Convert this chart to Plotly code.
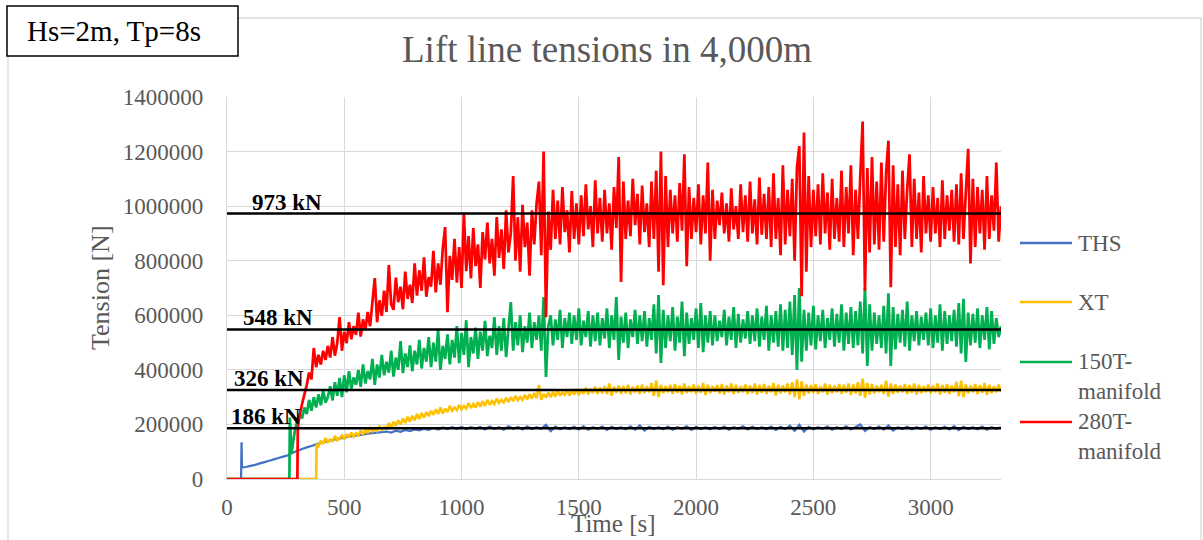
import plotly.graph_objects as go

# ---------------------------------------------------------------------------
# Lift line tension records in 4,000 m water depth (Hs = 2 m, Tp = 8 s)
# Tensions are stored in kN and plotted in N.
# ---------------------------------------------------------------------------

SERIES_NAMES = ["THS", "XT", "150T-manifold", "280T-manifold"]
SERIES_COLORS = ["#4472C4", "#FFC000", "#00B050", "#FF0000"]
SERIES_WIDTHS = [2.25, 2.5, 2.75, 2.75]

# Mean tension levels (kN)
LEVELS_KN = [186, 326, 548, 973]
LEVEL_LABELS = ["186 kN", "326 kN", "548 kN", "973 kN"]
LEVEL_LABEL_T = [9, 21, 60, 98]          # time [s] where each label starts

X_TICKS = [0, 500, 1000, 1500, 2000, 2500, 3000]
Y_TICKS = [0, 200000, 400000, 600000, 800000, 1000000, 1200000, 1400000]

# --- THS: lift-off part, then samples every 20 s from 80 s ---------------
THS_START_T = [0, 60, 62, 64]
THS_START_KN = [0, 0, 135, 42]
THS_T0, THS_DT = 80, 20
THS_KN = [
    44, 48, 52, 57, 62, 67, 72, 77, 82, 87,
    96, 103, 110, 116, 121, 127, 132, 137, 141, 145,
    149, 152, 155, 158, 161, 163, 166, 168, 170, 172,
    174, 170, 177, 173, 180, 176, 182, 178, 184, 180,
    187, 181, 189, 183, 190, 184, 191, 183, 190, 185,
    191, 182, 192, 183, 190, 181, 193, 184, 191, 182,
    192, 183, 190, 184, 198, 176, 192, 182, 190, 183,
    191, 182, 193, 181, 190, 184, 192, 180, 191, 183,
    190, 182, 193, 181, 196, 178, 191, 183, 190, 182,
    192, 181, 190, 184, 193, 180, 191, 183, 190, 182,
    191, 183, 192, 181, 190, 184, 193, 182, 191, 183,
    190, 182, 192, 180, 191, 183, 195, 177, 198, 174,
    191, 182, 190, 184, 192, 181, 190, 183, 193, 182,
    191, 200, 176, 190, 183, 192, 181, 196, 178, 190,
    183, 191, 182, 190, 184, 192, 181, 190, 183, 191,
    182, 194, 179, 191, 183, 190, 182, 192, 181, 190,
    184, 189,
]

# --- XT: lift-off part, then samples every 10 s from 390 s ---------------
XT_START_T = [0, 380, 382]
XT_START_KN = [0, 0, 128]
XT_T0, XT_DT = 390, 10
XT_KN = [
    120, 140, 128, 150, 135, 145, 138, 158, 142, 150,
    160, 145, 165, 152, 170, 155, 168, 160, 178, 162,
    182, 168, 190, 172, 185, 176, 195, 180, 190, 185,
    205, 188, 210, 195, 215, 200, 222, 205, 228, 210,
    232, 215, 238, 220, 242, 225, 245, 230, 250, 235,
    255, 238, 262, 240, 258, 245, 268, 250, 262, 252,
    272, 255, 268, 258, 278, 260, 275, 262, 282, 265,
    285, 268, 290, 272, 286, 275, 295, 278, 290, 280,
    298, 282, 300, 285, 305, 288, 300, 290, 308, 292,
    310, 294, 315, 296, 345, 290, 312, 298, 318, 300,
    320, 302, 325, 305, 318, 308, 328, 306, 322, 310,
    330, 308, 326, 312, 335, 310, 330, 315, 338, 312,
    335, 314, 340, 312, 350, 305, 338, 316, 342, 312,
    340, 315, 345, 310, 338, 318, 342, 312, 346, 315,
    340, 318, 352, 305, 360, 300, 345, 315, 340, 318,
    345, 312, 348, 316, 342, 310, 350, 315, 340, 318,
    346, 312, 342, 316, 352, 308, 345, 315, 340, 320,
    344, 314, 348, 310, 342, 318, 350, 312, 345, 316,
    340, 318, 346, 312, 342, 315, 350, 310, 344, 316,
    348, 312, 342, 318, 352, 306, 345, 314, 342, 318,
    350, 310, 355, 300, 365, 292, 358, 305, 346, 314,
    344, 316, 348, 312, 340, 318, 350, 310, 345, 315,
    342, 318, 348, 312, 345, 316, 350, 308, 346, 314,
    355, 305, 368, 298, 352, 310, 348, 314, 342, 318,
    345, 312, 360, 302, 350, 312, 346, 316, 342, 318,
    348, 312, 344, 316, 350, 310, 345, 315, 340, 318,
    346, 314, 342, 318, 350, 310, 344, 316, 348, 312,
    342, 318, 356, 304, 360, 300, 346, 314, 342, 318,
    348, 312, 344, 316, 352, 308, 345, 315, 340, 318,
    346, 320,
]

# --- 150T manifold: lift-off part, then samples every 10 s from 280 s ----
M150_START_T = [0, 266, 268, 275]
M150_START_KN = [0, 0, 225, 95]
M150_T0, M150_DT = 280, 10
M150_KN = [
    125, 180, 215, 240, 222, 262, 238, 290, 250, 300,
    262, 310, 270, 325, 280, 300, 340, 288, 355, 305,
    370, 300, 380, 318, 395, 330, 372, 345, 400, 338,
    420, 350, 395, 365, 440, 345, 420, 372, 455, 380,
    430, 390, 470, 375, 445, 400, 505, 388, 460, 410,
    490, 395, 470, 420, 510, 405, 480, 430, 520, 410,
    500, 430, 546, 400, 488, 440, 530, 420, 510, 445,
    560, 425, 535, 455, 582, 410, 520, 460, 555, 440,
    540, 470, 580, 450, 525, 480, 593, 455, 560, 470,
    590, 447, 550, 648, 470, 575, 490, 600, 465, 560,
    500, 610, 480, 575, 510, 600, 470, 667, 374, 560,
    600, 490, 585, 510, 620, 480, 590, 520, 610, 495,
    600, 510, 625, 490, 580, 520, 615, 485, 600, 505,
    610, 490, 590, 515, 625, 480, 600, 510, 667, 436,
    595, 500, 610, 480, 585, 520, 620, 495, 600, 505,
    615, 485, 590, 510, 640, 460, 674, 425, 620, 480,
    600, 505, 630, 470, 595, 500, 650, 450, 610, 495,
    590, 510, 625, 480, 645, 465, 600, 500, 615, 490,
    600, 505, 580, 520, 620, 490, 595, 510, 630, 480,
    605, 500, 585, 515, 615, 495, 600, 505, 625, 485,
    595, 510, 635, 470, 600, 500, 615, 485, 640, 470,
    620, 480, 650, 455, 674, 400, 700, 430, 620, 470,
    610, 490, 635, 475, 600, 505, 620, 480, 590, 510,
    625, 485, 605, 500, 640, 470, 610, 495, 630, 480,
    615, 490, 650, 460, 700, 414, 640, 470, 610, 495,
    600, 480, 635, 460, 681, 414, 630, 475, 605, 500,
    620, 485, 650, 470, 600, 505, 615, 490, 595, 510,
    610, 490, 625, 480, 600, 500, 640, 470, 615, 495,
    600, 505, 620, 485, 645, 460, 660, 429, 610, 490,
    605, 500, 625, 480, 600, 510, 630, 475, 615, 495,
    590, 520, 560,
]

# --- 280T manifold: lift-off part, then samples every 10 s from 310 s ----
M280_START_T = [0, 300, 302]
M280_START_KN = [0, 0, 190]
M280_T0, M280_DT = 310, 10
M280_KN = [
    235, 275, 310, 345, 390, 365, 480, 410, 455, 420,
    470, 436, 488, 445, 520, 452, 498, 593, 470, 540,
    498, 575, 512, 560, 528, 610, 522, 585, 548, 612,
    560, 648, 736, 575, 655, 598, 690, 612, 784, 640,
    620, 738, 648, 705, 622, 760, 660, 712, 645, 790,
    672, 765, 690, 812, 668, 740, 705, 836, 684, 790,
    712, 845, 923, 611, 818, 730, 880, 720, 850, 700,
    974, 762, 890, 735, 920, 780, 860, 700, 905, 805,
    940, 790, 880, 745, 960, 810, 915, 770, 985, 830,
    900, 1110, 800, 960, 760, 1005, 850, 940, 745, 985,
    860, 1010, 1090, 820, 1200, 593, 980, 840, 1060, 880,
    1020, 860, 1070, 905, 985, 830, 1055, 880, 1010, 860,
    1040, 890, 1080, 915, 1000, 850, 1095, 900, 1030, 870,
    1060, 900, 1010, 840, 1070, 920, 1180, 722, 1090, 880,
    1020, 890, 1100, 930, 1045, 860, 1075, 905, 1010, 850,
    1090, 880, 1130, 760, 1200, 710, 1110, 850, 1060, 900,
    1040, 870, 1085, 910, 1190, 780, 1070, 880, 1030, 905,
    1080, 860, 1040, 900, 1160, 800, 1060, 880, 1020, 930,
    1050, 900, 1010, 870, 1065, 915, 1000, 880, 1080, 905,
    1040, 870, 1090, 900, 1025, 860, 1105, 895, 1045, 880,
    1070, 850, 1120, 880, 1030, 820, 1150, 860, 1060, 890,
    1100, 800, 1140, 1220, 670, 1270, 760, 1110, 850, 1060,
    890, 1080, 860, 1120, 900, 1050, 840, 1100, 880, 1030,
    870, 1130, 850, 1070, 900, 1150, 820, 1060, 880, 1110,
    1310, 690, 1140, 830, 1180, 860, 1090, 840, 1160, 870,
    1120, 1240, 703, 1150, 850, 1080, 820, 1130, 880, 1060,
    1190, 850, 1100, 880, 1050, 830, 1110, 900, 1040, 870,
    1070, 900, 1030, 850, 1095, 880, 1040, 910, 1060, 870,
    1080, 860, 1120, 880, 1050, 1210, 790, 1100, 850, 1070,
    900, 1060, 840, 1110, 880, 1040, 910, 1160, 870, 1000,
]

T_END = 3300


def build(start_t, start_kn, t0, dt, kn):
    """Join the start-up points with the regularly sampled record (kN -> N)."""
    times = list(start_t) + [t0 + i * dt for i in range(len(kn))]
    newtons = [v * 1000 for v in list(start_kn) + list(kn)]
    return times, newtons


records = [
    build(THS_START_T, THS_START_KN, THS_T0, THS_DT, THS_KN),
    build(XT_START_T, XT_START_KN, XT_T0, XT_DT, XT_KN),
    build(M150_START_T, M150_START_KN, M150_T0, M150_DT, M150_KN),
    build(M280_START_T, M280_START_KN, M280_T0, M280_DT, M280_KN),
]

# ---------------------------------------------------------------------------
# Figure geometry (pixels)
# ---------------------------------------------------------------------------
W, H = 1203, 540
PL, PR, PT, PB = 227, 1001, 97, 479


def px(x):
    return (x - PL) / (PR - PL)


def py(y):
    return (PB - y) / (PB - PT)


SERIF = "Liberation Serif, Times New Roman, serif"
GREY_TXT = "#595959"
GRID = "#D9D9D9"

fig = go.Figure()

for (t, n), name, color, lw in zip(records, SERIES_NAMES, SERIES_COLORS,
                                   SERIES_WIDTHS):
    fig.add_trace(go.Scatter(
        x=t, y=n, mode="lines", name=name,
        line=dict(color=color, width=lw, simplify=False),
        hoverinfo="skip", showlegend=False,
    ))

# mean-level lines
for lvl in LEVELS_KN:
    fig.add_trace(go.Scatter(
        x=[0, T_END], y=[lvl * 1000, lvl * 1000], mode="lines",
        line=dict(color="black", width=2.5),
        hoverinfo="skip", showlegend=False,
    ))

annotations = []
for lvl, lab, t_lab in zip(LEVELS_KN, LEVEL_LABELS, LEVEL_LABEL_T):
    annotations.append(dict(
        x=t_lab, y=lvl * 1000, xref="x", yref="y",
        text=f"<b>{lab}</b>", showarrow=False,
        xanchor="left", yanchor="bottom", yshift=-3,
        font=dict(family=SERIF, size=23, color="black"),
    ))

# chart title and axis titles
annotations += [
    dict(x=px(607), y=py(50), xref="paper", yref="paper",
         text="Lift line tensions in 4,000m", showarrow=False,
         xanchor="center", yanchor="middle",
         font=dict(family=SERIF, size=37, color=GREY_TXT)),
    dict(x=px(613), y=py(539), xref="paper", yref="paper",
         text="Time [s]", showarrow=False,
         xanchor="center", yanchor="bottom",
         font=dict(family=SERIF, size=25, color=GREY_TXT)),
    dict(x=px(100), y=py(288), xref="paper", yref="paper",
         text="Tension [N]", showarrow=False, textangle=-90,
         xanchor="center", yanchor="middle",
         font=dict(family=SERIF, size=26, color=GREY_TXT)),
    dict(x=px(114), y=py(31), xref="paper", yref="paper",
         text="Hs=2m, Tp=8s", showarrow=False,
         xanchor="center", yanchor="middle",
         font=dict(family=SERIF, size=29, color="black")),
]

shapes = [
    # outer chart frame
    dict(type="rect", xref="paper", yref="paper",
         x0=px(8), x1=px(1201), y0=py(548), y1=py(18),
         line=dict(color=GRID, width=1.3), fillcolor="rgba(0,0,0,0)",
         layer="below"),
    # sea-state text box
    dict(type="rect", xref="paper", yref="paper",
         x0=px(7), x1=px(238), y0=py(56), y1=py(6),
         line=dict(color="black", width=1.5), fillcolor="white",
         layer="above"),
]

# legend drawn at the right of the plot area
LEG_Y = [243, 302, 362, 422]
LEG_TEXT = ["THS", "XT", "150T-<br>manifold", "280T-<br>manifold"]
for yy, txt, color in zip(LEG_Y, LEG_TEXT, SERIES_COLORS):
    shapes.append(dict(type="line", xref="paper", yref="paper",
                       x0=px(1020), x1=px(1072), y0=py(yy), y1=py(yy),
                       line=dict(color=color, width=2.5)))
    if "<br>" in txt:
        annotations.append(dict(
            x=px(1076), y=py(yy - 15), xref="paper", yref="paper",
            text=txt, showarrow=False, align="left",
            xanchor="left", yanchor="top",
            font=dict(family=SERIF, size=23, color=GREY_TXT)))
    else:
        annotations.append(dict(
            x=px(1076), y=py(yy), xref="paper", yref="paper",
            text=txt, showarrow=False, align="left",
            xanchor="left", yanchor="middle",
            font=dict(family=SERIF, size=23, color=GREY_TXT)))

fig.update_layout(
    width=W, height=H,
    margin=dict(l=PL, r=W - PR, t=PT, b=H - PB, pad=0),
    paper_bgcolor="white", plot_bgcolor="white",
    showlegend=False,
    annotations=annotations, shapes=shapes,
    xaxis=dict(
        range=[0, T_END], tickvals=X_TICKS,
        showgrid=True, gridcolor=GRID, gridwidth=1.3,
        zeroline=False, showline=True, linecolor=GRID, linewidth=1.3,
        ticks="outside", ticklen=7, tickcolor="rgba(0,0,0,0)",
        tickfont=dict(family=SERIF, size=23, color=GREY_TXT),
    ),
    yaxis=dict(
        range=[0, 1400000], tickvals=Y_TICKS, tickformat="d",
        showgrid=True, gridcolor=GRID, gridwidth=1.3,
        zeroline=False, showline=True, linecolor=GRID, linewidth=1.3,
        ticks="outside", ticklen=18, tickcolor="rgba(0,0,0,0)",
        tickfont=dict(family=SERIF, size=23, color=GREY_TXT),
    ),
)

fig.write_html("out.html")
